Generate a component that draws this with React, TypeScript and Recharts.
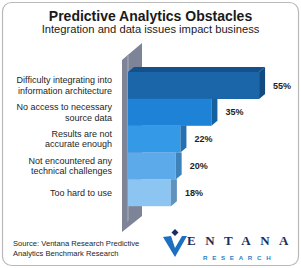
import React from 'react';
import { BarChart, Bar, XAxis, YAxis, Cell, LabelList } from 'recharts';

// survey answers, top to bottom
const categories = [
  'Difficulty integrating into\ninformation architecture',
  'No access to necessary\nsource data',
  'Results are not\naccurate enough',
  'Not encountered any\ntechnical challenges',
  'Too hard to use',
];
const percents = [55, 35, 22, 20, 18];

const rows = categories.map((label, i) => ({ label, value: percents[i] }));

// front / side / top colours per bar
const faces = [
  { front: '#1b66a8', side: '#114b80', top: '#13508c' },
  { front: '#1e83d6', side: '#15609f', top: '#1869b0' },
  { front: '#3499e6', side: '#2470b2', top: '#2a7bc0' },
  { front: '#5caae9', side: '#3e82ba', top: '#4a90cc' },
  { front: '#8cc5f1', side: '#5f92bd', top: '#70a6d4' },
];

const DX = 6;
const DY = 5;
const FONT = '"Liberation Sans", Arial, sans-serif';

function Bar3D(props: any) {
  const { x, y, width, height, index } = props;
  const f = faces[index];
  const r = x + width;
  const b = y + height;
  return (
    <g>
      <rect x={x} y={y} width={width} height={height} fill={f.front} />
      {index === 0 ? (
        <>
          <polygon points={`${x},${y} ${x + DX},${y - DY} ${r + DX},${y - DY} ${r},${y}`} fill={f.top} />
          <polygon points={`${r},${y} ${r + DX},${y - DY} ${r + DX},${b - DY} ${r},${b}`} fill={f.side} />
        </>
      ) : (
        <polygon points={`${r},${y} ${r + DX},${y} ${r + DX},${b - DY} ${r},${b}`} fill={f.side} />
      )}
    </g>
  );
}

function CatTick(props: any) {
  const { x, y, payload } = props;
  const lines = String(payload.value).split('\n');
  const lh = 10.5;
  const y0 = y - ((lines.length - 1) * lh) / 2;
  return (
    <text textAnchor="end" fontSize={9} fontFamily={FONT} fill="#1e1e1e">
      {lines.map((l, i) => (
        <tspan key={i} x={x} y={y0 + i * lh} dy="0.35em">
          {l}
        </tspan>
      ))}
    </text>
  );
}

function ValueLabel(props: any) {
  const { x, y, width, height, value } = props;
  return (
    <text
      x={x + width + DX + 8}
      y={y + height / 2}
      dy="0.35em"
      fontSize={9}
      fontWeight="bold"
      fontFamily={FONT}
      fill="#1e1e1e"
    >
      {value}%
    </text>
  );
}

export default function App() {
  return (
    <div style={{ position: 'absolute', left: 0, top: 0, width: 301, height: 268, background: '#fff' }}>
      <svg width={301} height={268} style={{ position: 'absolute', left: 0, top: 0 }}>
        <rect x={2.5} y={2.5} width={296} height={263} rx={9} fill="#fff" stroke="#b9b9b9" strokeWidth={1.2} />
        {/* back wall */}
        <polygon points="122,60 142,43 142,216 122,232" fill="#7d8498" />
        <polygon points="127,56 129,54 129,220 127,222" fill="#959cae" />
      </svg>
      <div style={{ position: 'absolute', left: 0, top: 0 }}>
        <BarChart
          width={301}
          height={268}
          layout="vertical"
          data={rows}
          margin={{ top: 72, right: 30, bottom: 62, left: 0 }}
          barCategoryGap={0}
        >
          <XAxis type="number" domain={[0, 60]} hide />
          <YAxis
            type="category"
            dataKey="label"
            width={128}
            tickLine={false}
            axisLine={false}
            tickSize={0}
            tickMargin={16}
            interval={0}
            tick={<CatTick />}
          />
          <Bar dataKey="value" isAnimationActive={false} shape={Bar3D}>
            {rows.map((_, i) => (
              <Cell key={i} fill={faces[i].front} />
            ))}
            <LabelList dataKey="value" content={ValueLabel} />
          </Bar>
        </BarChart>
      </div>
      <svg width={301} height={268} style={{ position: 'absolute', left: 0, top: 0, pointerEvents: 'none' }}>
        <text x={150.5} y={21} textAnchor="middle" fontSize={14} fontWeight="bold" fontFamily={FONT} fill="#1a1a1a">
          Predictive Analytics Obstacles
        </text>
        <text x={150.5} y={33} textAnchor="middle" fontSize={11.2} fontFamily={FONT} fill="#1a1a1a">
          Integration and data issues impact business
        </text>
        <text x={13} y={246} fontSize={7.6} fontFamily={FONT} fill="#1e1e1e">
          Source: Ventana Research Predictive
        </text>
        <text x={13} y={256} fontSize={7.6} fontFamily={FONT} fill="#1e1e1e">
          Analytics Benchmark Research
        </text>
        {/* logo */}
        <polygon points="163,237 171,236 175,248 182,236 187,236 175,257" fill="#1d6fc0" />
        <polygon points="175,229 178.5,232.5 175,236 171.5,232.5" fill="#1b2d5e" />
        <text x={187} y={245} fontSize={13} fontWeight="bold" fontFamily='"Liberation Serif", serif' fill="#1b2d5e" letterSpacing={9.5}>
          ENTANA
        </text>
        <text x={203} y={260} fontSize={6.2} fontWeight="bold" fontFamily={FONT} fill="#2c7fca" letterSpacing={4.7}>
          RESEARCH
        </text>
      </svg>
    </div>
  );
}
